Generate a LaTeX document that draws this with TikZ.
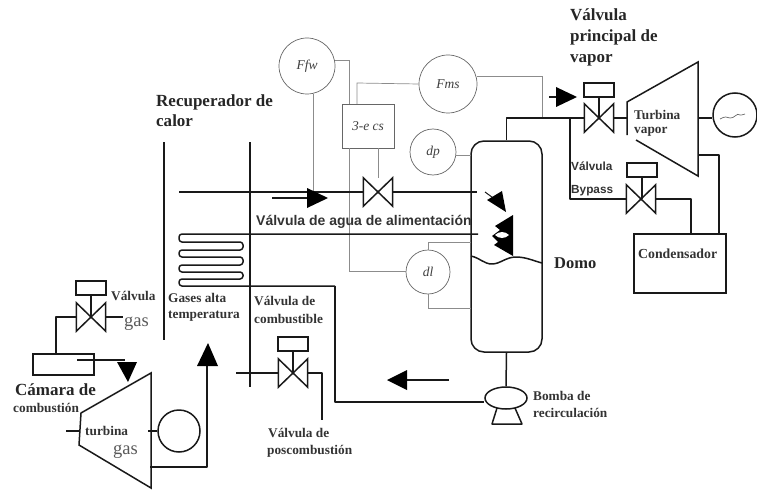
\documentclass[tikz,border=0pt]{standalone}
\usepackage{fontspec}
\setmainfont{Liberation Serif}
\newfontfamily\arialfont{Liberation Sans}
\usetikzlibrary{calc,shapes.geometric}
\newcommand{\valvetie}[1]{\draw[pipe,line join=miter] (#1.north west)--(#1.south east)--(#1.north east)--(#1.south west)--cycle;}
\tikzset{
 pipe/.style={draw=black!90,line width=1.5pt,line join=round},
 thinl/.style={draw=black!45,line width=0.7pt},
 valvebox/.style={rectangle,draw=none,inner sep=0,minimum width=29pt,minimum height=28pt},
 act/.style={rectangle,draw=black!90,line width=1.5pt,fill=white,inner sep=0,minimum width=30pt,minimum height=14pt},
 instr/.style={circle,draw=black!60,line width=0.7pt,fill=white,inner sep=0,font=\fontsize{13.5}{14}\selectfont\itshape,text=black!75},
 lab/.style={anchor=west,inner sep=0,font=\fontsize{13.3}{14}\selectfont\bfseries,text=black!80},
 labb/.style={anchor=west,inner sep=0,font=\fontsize{17}{18}\selectfont\bfseries,text=black!85},
 gaslab/.style={anchor=west,inner sep=0,font=\fontsize{18.5}{19}\selectfont,text=black!65},
 salab/.style={anchor=west,inner sep=0,font=\arialfont\fontsize{11.8}{13}\selectfont\bfseries,text=black!80},
 head/.style={fill=black,draw=none}
}
\begin{document}
\begin{tikzpicture}[x=1pt,y=-1pt]
\useasboundingbox (0,0) rectangle (757,492);
% recuperador walls
\coordinate (rla) at (164,142); \coordinate (rlb) at (164,340);
\coordinate (rra) at (250,142); \coordinate (rrb) at (250,387);
\draw[pipe] (rla)--(rlb);
\draw[pipe] (rra)--(rrb);
% drum
\node[rectangle,rounded corners=13pt,draw=black!90,line width=1.5pt,minimum width=71pt,minimum height=211pt,inner sep=0] (drum) at (506.5,246.5) {};
\draw[pipe] (471,256) .. controls (480,258) and (484,264) .. (492,264) .. controls (500,264) and (506,257) .. (516,257) .. controls (526,257) and (534,261) .. (542,263);
% instruments
\node[instr,minimum size=56pt] (ffw) at (307,66) {Ffw};
\node[instr,minimum size=58pt] (fms) at (448,84) {Fms};
\node[instr,minimum size=46pt] (dp) at (433,152) {dp};
\node[instr,minimum size=44pt] (dl) at (428,272) {dl};
\node[rectangle,draw=black!60,line width=0.7pt,fill=white,inner sep=0,minimum width=52pt,minimum height=44pt,font=\fontsize{13.5}{14}\selectfont\itshape,text=black!75] (cs) at (368,126) {3-e cs};
% valves
\node[valvebox] (vfw) at (378,192) {};
\node[valvebox] (vm) at (599,118) {};
\node[act] (am) at (599,90) {};
\node[valvebox] (vb) at (641,199) {};
\node[act] (ab) at (642,170) {};
\node[valvebox] (vg) at (91,317) {};
\node[act] (ag) at (91,288) {};
\node[valvebox] (vc) at (293,373) {};
\node[act] (ac) at (293,344) {};
% thin signal lines
\coordinate (j1) at (349,60); \coordinate (j2) at (349,271);
\draw[thinl] (ffw.east |- j1)--(j1)--(cs.north -| j1);
\draw[thinl] (cs.south -| j1)--(j2)--(dl.west |- j2);
\draw[thinl] (ffw.south -| 313,0)--(313,192);
\draw[thinl] (357,104)--(357,83)--(fms.west);
\draw[thinl] (vfw.north |- cs.south)--(vfw.north);
\draw[thinl] (fms.east |- 0,76)--(542,76)--(542,118);
\draw[thinl] (dp.east |- 0,155)--(471,155);
\draw[thinl] (dl.north)--(428,242)--(471,242);
\draw[thinl] (dl.south)--(428,308)--(471,308);
% feed water line
\coordinate (fa) at (179,192); \coordinate (fb) at (477,192);
\draw[pipe] (fa)--(vfw.west); \draw[pipe] (vfw.east)--(fb);
\valvetie{vfw}
\coordinate (ar1) at (272,198);
\draw[pipe] (ar1)--(310,198);
\fill[head] (307,188)--(328,198)--(307,208)--cycle;
% serpentine
\coordinate (sb) at (335,286);
\draw[pipe,rounded corners=3pt] (478,234)--(179,234)--(179,242)--(243,242)--(243,250)--(179,250)--(179,257)--(243,257)--(243,265)--(179,265)--(179,272)--(243,272)--(243,279)--(179,279)--(179,286)--(sb);
% recirculation
\node[ellipse,draw=black!90,line width=1.5pt,fill=white,inner sep=0,minimum width=42pt,minimum height=22pt] (pump) at (506,398) {};
\draw[pipe] (sb)--(335,402)--(pump.west |- 0,402);
\draw[pipe] (drum.south)--(pump.north);
\draw[pipe] (497,408)--(492,424)--(522,424)--(515,408);
\coordinate (ar2) at (449,380);
\draw[pipe] (ar2)--(404,380);
\fill[head] (407,370)--(387,380)--(407,390)--cycle;
% drum internals
\draw[pipe,line width=1pt] (485,192)--(500,203);
\fill[head] (487,200)--(502,191)--(506,212)--cycle;
\fill[head] (513,215)--(495,226)--(500,230)--(492,236)--(498,242)--(494,245)--(513,256)--cycle;
\fill[white] (495,235) .. controls (499,231) and (505,231) .. (509,235) .. controls (505,239) and (499,239) .. (495,235)--cycle;
% main steam
\draw[pipe] (drum.north)|-(vm.west);
\draw[pipe] (am.south)--(vm.center);
\valvetie{vm}
\coordinate (tv1) at (627,102); \coordinate (tv2) at (698,62); \coordinate (tv3) at (698,176); \coordinate (tv4) at (636,140); \coordinate (tv5) at (627,135);
\draw[pipe,line join=miter] (tv5)--(tv1)--(tv2)--(tv3)--(tv4);
\draw[pipe] (vm.east)--(627,118);
\node[circle,draw=black!90,line width=1.5pt,inner sep=0,minimum size=44pt] (gv) at (735,115) {};
\draw[pipe] (698,118)--(gv.west |- 0,118);
\draw[black!60,line width=0.7pt] (720,119) .. controls (725,116) and (727,117) .. (730,118) .. controls (734,119) and (737,112) .. (740,115) .. controls (741,116) and (743,114) .. (745,114);
\coordinate (ar3) at (549,97);
\draw[pipe] (ar3)--(560,97);
\fill[head] (556,87)--(577,97)--(556,107)--cycle;
% bypass
\draw[pipe] (570,118)--(570,199)--(vb.west);
\draw[pipe] (ab.south)--(642,199);
\valvetie{vb}
\node[rectangle,draw=black!90,line width=1.5pt,inner sep=0,minimum width=92pt,minimum height=59pt] (cond) at (680,263.5) {};
\draw[pipe] (vb.east)--(691,199)--(691,234);
\draw[pipe] (698,155)--(719,155)--(719,234);
% gas valve & chamber
\node[rectangle,draw=black!90,line width=1.5pt,inner sep=0,minimum width=61pt,minimum height=21pt] (cam) at (63.5,364.5) {};
\draw[pipe] (vg.west)--(56,317)--(56,354);
\coordinate (gs) at (123,317);
\draw[pipe] (vg.east)--(gs);
\draw[pipe] (ag.south)--(vg.center);
\valvetie{vg}
\draw[pipe] (77,360)--(125,360);
\fill[head] (117,362)--(137,362)--(128,382)--cycle;
% gas turbine
\coordinate (t1) at (81,413); \coordinate (t2) at (151,373); \coordinate (t3) at (151,488); \coordinate (t4) at (79,445);
\draw[pipe,line join=miter] (t1)--(t2)--(t3)--(t4)--cycle;
\coordinate (ts) at (66,431);
\draw[pipe] (ts)--(80,431);
\node[circle,draw=black!90,line width=1.5pt,inner sep=0,minimum size=42pt] (gg) at (179,431) {};
\draw[pipe] (148,431)--(gg.west);
\draw[pipe] (150,467)--(207,467)--(207,362);
\fill[head] (197,366)--(208,343)--(218,366)--cycle;
% fuel valve
\coordinate (fl) at (236,373); \coordinate (fr) at (322,420);
\draw[pipe] (fl)--(vc.west);
\draw[pipe] (vc.east)--(322,373)--(fr);
\draw[pipe] (ac.south)--(vc.center);
\valvetie{vc}
% labels
\node[labb] (l1) at (156,102) {Recuperador de};
\node[labb] (l2) at (156,121) {calor};
\node[labb] (l3) at (570,15) {Válvula};
\node[labb] (l4) at (570,37) {principal de};
\node[labb] (l5) at (570,60) {vapor};
\node[lab] (l6) at (111,296) {Válvula};
\node[gaslab] (l7) at (124,324) {gas};
\node[lab] (l8) at (168,298) {Gases alta};
\node[lab] (l9) at (168,316) {temperatura};
\node[lab] (l10) at (254,301) {Válvula de};
\node[lab] (l11) at (254,319) {combustible};
\node[labb] (l12) at (15,390) {Cámara de};
\node[lab] (l13) at (13,408) {combustión};
\node[lab] (l14) at (85,431) {turbina};
\node[gaslab] (l15) at (113,452) {gas};
\node[lab] (l16) at (268,433) {Válvula de};
\node[lab] (l17) at (267,451) {poscombustión};
\node[lab] (l18) at (533,396) {Bomba de};
\node[lab] (l19) at (533,413) {recirculación};
\node[labb,font=\fontsize{16.5}{18}\selectfont\bfseries] (l20) at (554,263) {Domo};
\node[lab] (l21) at (634,115) {Turbina};
\node[lab] (l22) at (634,132) {vapor};
\node[salab] (l23) at (571,166) {Válvula};
\node[salab] (l24) at (571,191) {Bypass};
\node[lab,font=\fontsize{13.8}{15}\selectfont\bfseries] (l25) at (638,254) {Condensador};
\node[salab,font=\arialfont\fontsize{14}{15}\selectfont\bfseries] (l26) at (256,222) {Válvula de agua de alimentación};
\end{tikzpicture}
\end{document}
